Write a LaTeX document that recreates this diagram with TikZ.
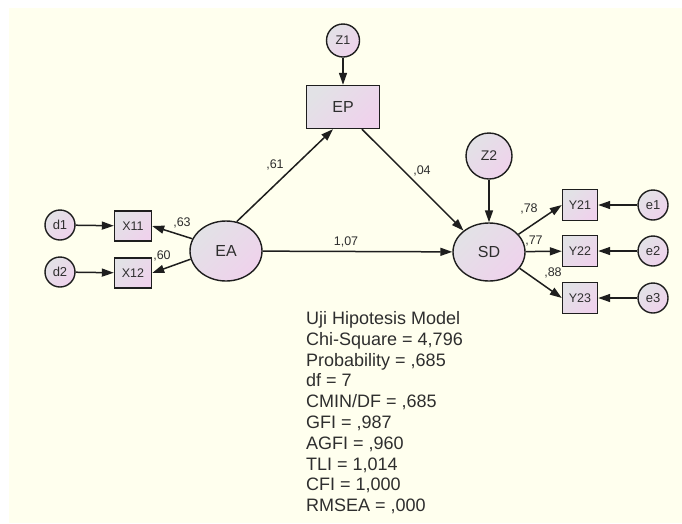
\documentclass[tikz,border=0pt]{standalone}
\usepackage{fontspec}
\setmainfont{Liberation Sans}
\usetikzlibrary{shapes.geometric,arrows.meta,calc}
\definecolor{bgy}{HTML}{FFFFEE}
\definecolor{ln}{HTML}{1E1E1E}
\definecolor{shA}{HTML}{E2E2E6}
\definecolor{shB}{HTML}{EFD2EC}
\definecolor{tx}{HTML}{2E2E2E}
\begin{document}
\begin{tikzpicture}[x=1pt,y=-1pt,
 shfill/.style={left color=shA,right color=shB,shading angle=45,draw=ln,line width=1.4pt,text=tx},
 lat/.style={shfill,ellipse,minimum width=72pt,minimum height=60pt,inner sep=0pt,font=\fontsize{16}{18}\selectfont},
 obs/.style={shfill,rectangle,inner sep=0pt,minimum width=36pt,minimum height=30pt,font=\fontsize{12.5}{14}\selectfont},
 err/.style={shfill,circle,minimum size=30pt,inner sep=0pt,font=\fontsize{13}{14}\selectfont},
 arr/.style={draw=ln,line width=1.5pt,-{Triangle[length=12pt,width=8pt]}},
 lbl/.style={text=tx,font=\fontsize{12.5}{14}\selectfont,inner sep=0pt},
 fitline/.style={text=tx,font=\fontsize{18}{20.8}\selectfont,inner sep=0pt,anchor=base west}]
\useasboundingbox (0,0) rectangle (682,523);
\fill[white] (0,0) rectangle (682,523);
\fill[bgy] (9,8) rectangle (682,523);
% nodes
\node[err,minimum size=33pt,font=\fontsize{12.5}{14}\selectfont] (Z1) at (343,40.5) {Z1};
\node[obs,minimum width=73pt,minimum height=43pt,font=\fontsize{16}{18}\selectfont] (EP) at (343,107) {EP};
\node[lat] (EA) at (226,251) {EA};
\node[lat,minimum height=58pt] (SD) at (489,252) {SD};
\node[err,minimum size=46pt,font=\fontsize{14}{15}\selectfont] (Z2) at (489,156) {Z2};
\node[obs,minimum width=37pt] (X11) at (133,226) {X11};
\node[obs,minimum width=37pt] (X12) at (133,273) {X12};
\node[err] (d1) at (60,225) {d1};
\node[err] (d2) at (60,272) {d2};
\node[obs,minimum width=35pt,minimum height=31pt] (Y21) at (580,205) {Y21};
\node[obs,minimum width=35pt,minimum height=31pt] (Y22) at (580,251) {Y22};
\node[obs,minimum width=35pt,minimum height=31pt] (Y23) at (580,298) {Y23};
\node[err] (e1) at (653,205) {e1};
\node[err] (e2) at (653,251) {e2};
\node[err] (e3) at (653,298) {e3};
% arrows
\draw[arr] (Z1) -- (EP);
\draw[arr] (EA.70) -- ($(EP.south)+(-10,0)$);
\draw[arr] ($(EP.south)+(19,0)$) -- (SD.140);
\draw[arr] (EA) -- (SD);
\draw[arr] (Z2) -- (SD);
\draw[arr] (SD.31) -- (Y21.west);
\draw[arr] (SD) -- (Y22);
\draw[arr] (SD.-28) -- (Y23.west);
\draw[arr] (e1) -- (Y21);
\draw[arr] (e2) -- (Y22);
\draw[arr] (e3) -- (Y23);
\draw[arr] (d1) -- (X11);
\draw[arr] (d2) -- (X12);
\draw[arr] (EA.160) -- (X11.east);
\draw[arr] (EA.193) -- (X12.east);
% labels
\node[lbl] (l63) at (182,223) {,63};
\node[lbl] (l60) at (162,256) {,60};
\node[lbl] (l61) at (275,165) {,61};
\node[lbl] (l04) at (422,171) {,04};
\node[lbl] (l107) at (346,242) {1,07};
\node[lbl] (l78) at (529,209) {,78};
\node[lbl] (l77) at (534,241) {,77};
\node[lbl] (l88) at (553,273) {,88};
% fit block
\node[fitline] (f1) at (306,324.4) {Uji Hipotesis Model};
\node[fitline] (f2) at (306,345.2) {Chi-Square = 4,796};
\node[fitline] (f3) at (306,366.0) {Probability = ,685};
\node[fitline] (f4) at (306,386.8) {df = 7};
\node[fitline] (f5) at (306,407.6) {CMIN/DF = ,685};
\node[fitline] (f6) at (306,428.4) {GFI = ,987};
\node[fitline] (f7) at (306,449.2) {AGFI = ,960};
\node[fitline] (f8) at (306,470.0) {TLI = 1,014};
\node[fitline] (f9) at (306,490.8) {CFI = 1,000};
\node[fitline] (f10) at (306,511.6) {RMSEA = ,000};
\end{tikzpicture}
\end{document}
